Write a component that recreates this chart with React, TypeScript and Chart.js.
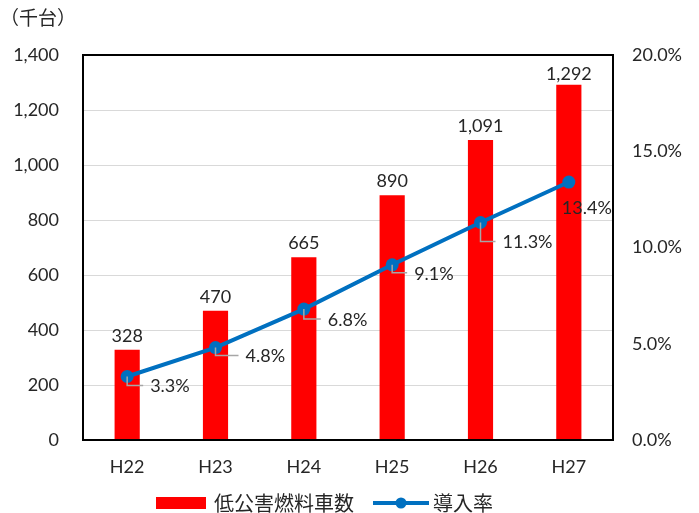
import React, { useEffect, useRef } from "react";
import { Chart, registerables } from "chart.js";

Chart.register(...registerables);

const categories = ["H22", "H23", "H24", "H25", "H26", "H27"];
const vehicles = [328, 470, 665, 890, 1091, 1292]; // 千台
const adoptionRate = [3.3, 4.8, 6.8, 9.1, 11.3, 13.4]; // %
const vehicleLabel = "低公害燃料車数";
const rateLabel = "導入率";
const unitLabel = "（千台）";

const FONT = "Lato, 'Noto Sans CJK JP', sans-serif";
const JP_FONT = "'Noto Sans CJK JP', sans-serif";
const BAR_RED = "#ff0000";
const LINE_BLUE = "#0070c0";
const TEXT = "#262626";
const FS = 18;

// offsets of the rate labels from their points (leader lines drawn where long)
const rateLabelOffset = [
  { dx: 23, dy: 10 },
  { dx: 30, dy: 9 },
  { dx: 24, dy: 11 },
  { dx: 22, dy: 9 },
  { dx: 22, dy: 20 },
  { dx: -7, dy: 26 },
];

const decorations = {
  id: "decorations",
  afterDatasetsDraw(chart: any) {
    const { ctx, chartArea } = chart;
    const { left, right, top, bottom } = chartArea;
    ctx.save();

    // plot frame
    ctx.strokeStyle = "#000";
    ctx.lineWidth = 2;
    ctx.strokeRect(left, top, right - left, bottom - top);

    // bar values, kept inside the plot frame
    ctx.fillStyle = TEXT;
    ctx.font = `${FS}px ${FONT}`;
    ctx.textAlign = "center";
    ctx.textBaseline = "alphabetic";
    const barMeta = chart.getDatasetMeta(0);
    barMeta.data.forEach((bar: any, i: number) => {
      const y = Math.max(bar.y - 8, top + 25);
      ctx.fillText(vehicles[i].toLocaleString("en-US"), bar.x, y);
    });

    // rate labels with leader lines
    const lineMeta = chart.getDatasetMeta(1);
    ctx.textAlign = "left";
    ctx.textBaseline = "middle";
    lineMeta.data.forEach((pt: any, i: number) => {
      const off = rateLabelOffset[i];
      const tx = pt.x + off.dx;
      const ty = pt.y + off.dy;
      if (off.dx > 10) {
        ctx.strokeStyle = "#a6a6a6";
        ctx.lineWidth = 1.5;
        ctx.beginPath();
        ctx.moveTo(pt.x, pt.y);
        ctx.lineTo(pt.x, ty - 1);
        ctx.lineTo(tx - 7, ty - 1);
        ctx.stroke();
      }
      ctx.fillStyle = TEXT;
      ctx.fillText(adoptionRate[i].toFixed(1) + "%", tx, ty);
    });
    ctx.restore();
  },
  afterDraw(chart: any) {
    const { ctx } = chart;
    ctx.save();
    // unit label
    ctx.fillStyle = TEXT;
    ctx.font = `19px ${JP_FONT}`;
    ctx.textAlign = "left";
    ctx.textBaseline = "middle";
    ctx.fillText(unitLabel, 0, 18);

    // legend
    const ly = 503;
    ctx.fillStyle = BAR_RED;
    ctx.fillRect(156, ly - 6, 50, 12);
    ctx.fillStyle = TEXT;
    ctx.font = `20px ${JP_FONT}`;
    ctx.fillText(vehicleLabel, 214, ly);
    ctx.strokeStyle = LINE_BLUE;
    ctx.lineWidth = 4;
    ctx.beginPath();
    ctx.moveTo(373, ly);
    ctx.lineTo(429, ly);
    ctx.stroke();
    ctx.fillStyle = LINE_BLUE;
    ctx.beginPath();
    ctx.arc(401, ly, 5.5, 0, Math.PI * 2);
    ctx.fill();
    ctx.fillStyle = TEXT;
    ctx.fillText(rateLabel, 433, ly);
    ctx.restore();
  },
};

export default function App() {
  const ref = useRef<HTMLCanvasElement>(null);

  useEffect(() => {
    if (!ref.current) return;
    const chart = new Chart(ref.current, {
      data: {
        labels: categories,
        datasets: [
          {
            type: "bar",
            label: vehicleLabel,
            data: vehicles,
            backgroundColor: BAR_RED,
            categoryPercentage: 1,
            barPercentage: 0.285,
            yAxisID: "y",
            order: 2,
          },
          {
            type: "line",
            label: rateLabel,
            data: adoptionRate,
            borderColor: LINE_BLUE,
            backgroundColor: LINE_BLUE,
            borderWidth: 4,
            pointRadius: 6.5,
            pointBackgroundColor: LINE_BLUE,
            pointBorderWidth: 0,
            yAxisID: "y1",
            order: 1,
          },
        ],
      } as any,
      options: {
        animation: false,
        responsive: false,
        maintainAspectRatio: false,
        layout: { padding: { top: 55, bottom: 28, left: 0, right: 0 } },
        plugins: { legend: { display: false }, tooltip: { enabled: false } },
        scales: {
          x: {
            grid: { display: false, drawTicks: false },
            border: { display: false },
            ticks: { color: TEXT, font: { size: FS, family: FONT }, padding: 16 },
            afterFit: (s: any) => {
              s.height = 45;
            },
          },
          y: {
            position: "left",
            min: 0,
            max: 1400,
            grid: { color: "#d9d9d9", lineWidth: 1, drawTicks: false },
            border: { display: false },
            ticks: {
              stepSize: 200,
              color: TEXT,
              font: { size: FS, family: FONT },
              padding: 24,
              callback: (v: any) => Number(v).toLocaleString("en-US"),
            },
            afterFit: (s: any) => {
              s.width = 83;
            },
          },
          y1: {
            position: "right",
            min: 0,
            max: 20,
            grid: { display: false, drawTicks: false },
            border: { display: false },
            ticks: {
              stepSize: 5,
              color: TEXT,
              font: { size: FS, family: FONT },
              padding: 19,
              callback: (v: any) => Number(v).toFixed(1) + "%",
            },
            afterFit: (s: any) => {
              s.width = 86;
            },
          },
        },
      } as any,
      plugins: [decorations],
    });
    return () => chart.destroy();
  }, []);

  return (
    <div style={{ position: "fixed", left: 0, top: 0, width: 699, height: 513, background: "#fff" }}>
      <canvas ref={ref} width={699} height={513} style={{ width: 699, height: 513 }} />
    </div>
  );
}
